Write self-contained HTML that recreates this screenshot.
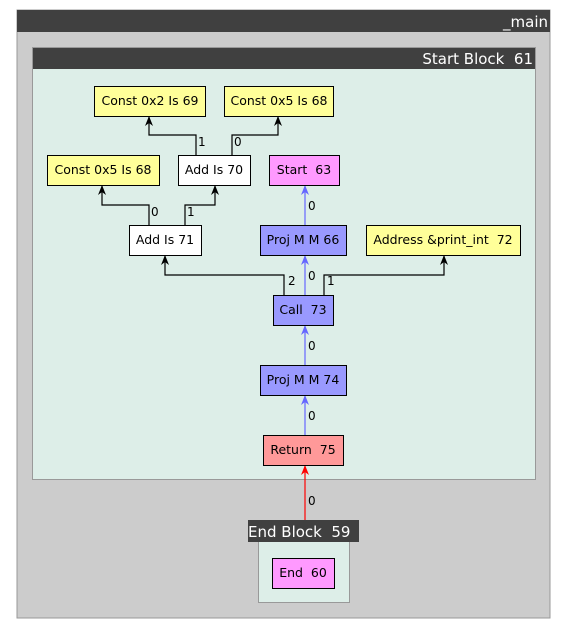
<!DOCTYPE html>
<html><head><style>
html,body{margin:0;padding:0;background:#fff;width:567px;height:629px;overflow:hidden}
svg text{font-family:"DejaVu Sans","Liberation Sans",sans-serif;white-space:pre}
</style></head><body>
<svg width="567" height="629" viewBox="0 0 567 629" xmlns="http://www.w3.org/2000/svg" xml:space="preserve">
<defs>
<marker id="ak" markerWidth="10" markerHeight="10" refX="5" refY="1" orient="0" markerUnits="userSpaceOnUse"><path d="M1,10 L5,0 L9,10 L5,7 Z" fill="#000"/></marker>
<marker id="ab" markerWidth="10" markerHeight="10" refX="5" refY="1" orient="0" markerUnits="userSpaceOnUse"><path d="M1,10 L5,0 L9,10 L5,7 Z" fill="#6666ff"/></marker>
<marker id="ar" markerWidth="10" markerHeight="10" refX="5" refY="1" orient="0" markerUnits="userSpaceOnUse"><path d="M1,10 L5,0 L9,10 L5,7 Z" fill="#ff0000"/></marker>
</defs>
<rect x="17" y="10" width="533" height="608" fill="#cccccc" stroke="#999" stroke-width="1"/>
<rect x="17" y="10" width="533" height="22" fill="#404040"/>
<text x="548" y="27" font-size="15" fill="#fff" text-anchor="end">_main</text>
<rect x="32.5" y="47.5" width="503" height="432" fill="#ddeee8" stroke="#999"/>
<rect x="33" y="48" width="502" height="21" fill="#404040"/>
<text x="533" y="64" font-size="15" fill="#fff" text-anchor="end">Start Block  61</text>
<rect x="258.5" y="520.5" width="91" height="82" fill="#ddeee8" stroke="#999"/>
<rect x="248" y="520" width="111" height="22" fill="#404040"/>
<text x="248" y="537" font-size="15" fill="#fff">End Block  59</text>
<g fill="none" stroke-width="1.2">
<polyline points="196,155 196,135 149,135 149,117" stroke="#000" marker-end="url(#ak)"/>
<polyline points="232,155 232,135 278,135 278,117" stroke="#000" marker-end="url(#ak)"/>
<polyline points="149,225 149,205 102,205 102,186" stroke="#000" marker-end="url(#ak)"/>
<polyline points="185,225 185,205 215,205 215,186" stroke="#000" marker-end="url(#ak)"/>
<polyline points="284,295 284,275 165,275 165,256" stroke="#000" marker-end="url(#ak)"/>
<polyline points="324,295 324,275 444,275 444,256" stroke="#000" marker-end="url(#ak)"/>
<line x1="305" y1="225" x2="305" y2="186" stroke="#6666ff" marker-end="url(#ab)"/>
<line x1="305" y1="295" x2="305" y2="256" stroke="#6666ff" marker-end="url(#ab)"/>
<line x1="305" y1="365" x2="305" y2="326" stroke="#6666ff" marker-end="url(#ab)"/>
<line x1="305" y1="435" x2="305" y2="396" stroke="#6666ff" marker-end="url(#ab)"/>
<line x1="305" y1="520" x2="305" y2="466" stroke="#ff0000" marker-end="url(#ar)"/>
</g>
<g font-size="12" fill="#000">
<text x="198" y="146">1</text><text x="234" y="146">0</text>
<text x="151" y="216">0</text><text x="187" y="216">1</text>
<text x="308" y="210">0</text>
<text x="288" y="285">2</text><text x="308" y="280">0</text><text x="327" y="285">1</text>
<text x="308" y="350">0</text><text x="308" y="420">0</text><text x="308" y="505">0</text>
</g>
<g stroke="#000" stroke-width="1">
<rect x="94.5" y="86.5" width="111" height="30" fill="#ffff99"/>
<rect x="224.5" y="86.5" width="109" height="30" fill="#ffff99"/>
<rect x="47.5" y="155.5" width="112" height="30" fill="#ffff99"/>
<rect x="178.5" y="155.5" width="72" height="30" fill="#fff"/>
<rect x="269.5" y="155.5" width="70" height="30" fill="#ff99ff"/>
<rect x="129.5" y="225.5" width="72" height="30" fill="#fff"/>
<rect x="260.5" y="225.5" width="86" height="30" fill="#9999ff"/>
<rect x="366.5" y="225.5" width="154" height="30" fill="#ffff99"/>
<rect x="273.5" y="295.5" width="60" height="30" fill="#9999ff"/>
<rect x="260.5" y="365.5" width="86" height="30" fill="#9999ff"/>
<rect x="263.5" y="435.5" width="80" height="30" fill="#ff9999"/>
<rect x="272.5" y="558.5" width="62" height="30" fill="#ff99ff"/>
</g>
<g font-size="12.5" fill="#000" text-anchor="middle">
<text x="150" y="105">Const 0x2 Is 69</text>
<text x="279" y="105">Const 0x5 Is 68</text>
<text x="103" y="174">Const 0x5 Is 68</text>
<text x="214" y="174">Add Is 70</text>
<text x="304" y="174">Start  63</text>
<text x="165" y="244">Add Is 71</text>
<text x="303" y="244">Proj M M 66</text>
<text x="443" y="244">Address &amp;print_int  72</text>
<text x="303" y="314">Call  73</text>
<text x="303" y="384">Proj M M 74</text>
<text x="303" y="454">Return  75</text>
<text x="303" y="577">End  60</text>
</g>
</svg>
</body></html>
